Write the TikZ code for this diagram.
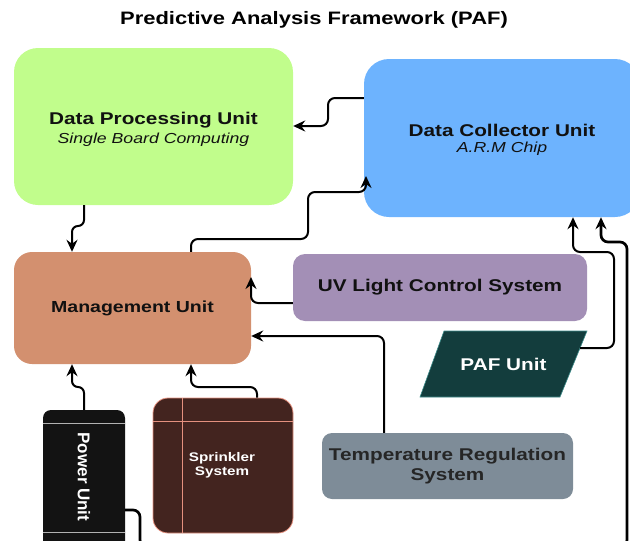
\documentclass[tikz,border=0pt]{standalone}
\usepackage{fontspec}
\setmainfont{Liberation Sans}[FakeStretch=1.22]
\newfontfamily\uprightsans{Liberation Sans}
\usetikzlibrary{arrows.meta}

\definecolor{dpuGreen}{HTML}{C1FD8C}
\definecolor{dcuBlue}{HTML}{6DB3FE}
\definecolor{muOrange}{HTML}{D3906F}
\definecolor{uvPurple}{HTML}{A38FB6}
\definecolor{pafTeal}{HTML}{133D3D}
\definecolor{pafEdge}{HTML}{3E8C8A}
\definecolor{tempGray}{HTML}{7E8C98}
\definecolor{powerBlack}{HTML}{131313}
\definecolor{sprBrown}{HTML}{43241F}
\definecolor{sprEdge}{HTML}{E5917F}
\definecolor{inkDark}{HTML}{111111}

\tikzset{
  box/.style={draw=none, inner sep=0pt, align=center, text=inkDark},
  conn/.style={draw=black, line width=2pt, rounded corners=7pt,
    -{Stealth[length=12pt,width=11pt,inset=4pt]}},
  thickconn/.style={conn, line width=2.7pt},
  fbig/.style={font=\bfseries\fontsize{17}{20}\selectfont},
}

\begin{document}
\begin{tikzpicture}[x=1pt,y=-1pt]
\useasboundingbox (0,0) rectangle (630,541);
\clip (0,0) rectangle (630,541);

% title
\node[font=\bfseries\fontsize{18}{21}\selectfont] (title) at (314,20) {Predictive Analysis Framework (PAF)};

% processing and collecting units
\node[box, fill=dpuGreen, rounded corners=24pt, minimum width=279pt, minimum height=157pt] (dpu) at (153.5,126.5) {};
\node[align=center, text=inkDark, inner sep=0pt] (dputext) at (153.5,129)
  {{\bfseries\fontsize{17}{20}\selectfont Data Processing Unit}\\[4pt]
   {\itshape\fontsize{14.5}{17}\selectfont Single Board Computing}};
\node[box, fill=dcuBlue, rounded corners=25pt, minimum width=276pt, minimum height=158pt] (dcu) at (502,138) {};
\node[align=center, text=inkDark, inner sep=0pt] (dcutext) at (502,140)
  {{\bfseries\fontsize{17}{20}\selectfont Data Collector Unit}\\[4pt]
   {\itshape\fontsize{14.5}{17}\selectfont A.R.M Chip}};

% management unit
\node[box, fill=muOrange, rounded corners=18pt, minimum width=237pt, minimum height=112pt,
  font=\bfseries\fontsize{16}{19}\selectfont] (mu) at (132.5,308) {Management Unit};

% subsystems
\node[box, fill=uvPurple, rounded corners=12pt, minimum width=294pt, minimum height=67pt, fbig] (uv) at (440,287.5) {UV Light Control System};
\fill[pafTeal, draw=pafEdge, line width=0.6pt] (444,331) -- (587,331) -- (560,397) -- (420,397) -- cycle;
\node[text=white, fbig] (paf) at (503.5,364) {PAF Unit};
\node[box, fill=tempGray, rounded corners=10pt, minimum width=251pt, minimum height=66pt,
  text=black!85, font=\bfseries\fontsize{17}{19.5}\selectfont] (temp) at (447.5,466) {Temperature Regulation\\System};

% power unit
\node[box, fill=powerBlack, rounded corners=8pt, minimum width=82pt, minimum height=150pt] (pu) at (84,485) {};
\draw[white!70!black, line width=0.6pt] (pu.west |- 0,423) -- (pu.east |- 0,423);
\draw[white!70!black, line width=0.6pt] (pu.west |- 0,532) -- (pu.east |- 0,532);
\node[rotate=-90, text=white, font=\uprightsans\bfseries\fontsize{17}{20}\selectfont] (putext) at (84,477) {Power Unit};

% sprinkler system
\node[box, fill=sprBrown, draw=sprEdge, line width=0.8pt, rounded corners=15pt,
  minimum width=140pt, minimum height=135pt] (ss) at (223,465.5) {};
\draw[sprEdge, line width=0.8pt] (182,398) -- (182,533);
\draw[sprEdge, line width=0.8pt] (153,421) -- (293,421);
\node[text=white, align=center, font=\bfseries\fontsize{12.5}{14}\selectfont] (sstext) at (222,465) {Sprinkler\\System};

% connectors
\draw[conn] (dcu.west |- 0,98) -- (328,98) -- (328,126) -- (dpu.east |- 0,126);
\draw[conn, rounded corners=6pt] (dpu.south -| 84,0) -- (84,226) -- (72,226) -- (mu.north -| 72,0);
\draw[conn] (mu.north -| 191,0) -- (191,239) -- (308,239) -- (308,192) -- (366,192) -- (366,176);
\draw[conn] (uv.west |- 0,303) -- (251,303) -- (251,277);
\draw[conn] (temp.north -| 384,0) -- (384,336) -- (mu.east |- 0,336);
\draw[conn, rounded corners=6pt] (pu.north -| 84,0) -- (84,387) -- (72,387) -- (mu.south -| 72,0);
\draw[conn] (ss.north -| 257,0) -- (257,387) -- (191,387) -- (mu.south -| 191,0);
\coordinate (pafout) at (580,348);
\draw[conn] (pafout) -- (614,348) -- (614,252) -- (573,252) -- (dcu.south -| 573,0);
\draw[thickconn] (pu.east |- 0,510) -- (140,510) -- (140,547) -- (627,547) -- (627,242) -- (601,242) -- (dcu.south -| 601,0);
\end{tikzpicture}
\end{document}
